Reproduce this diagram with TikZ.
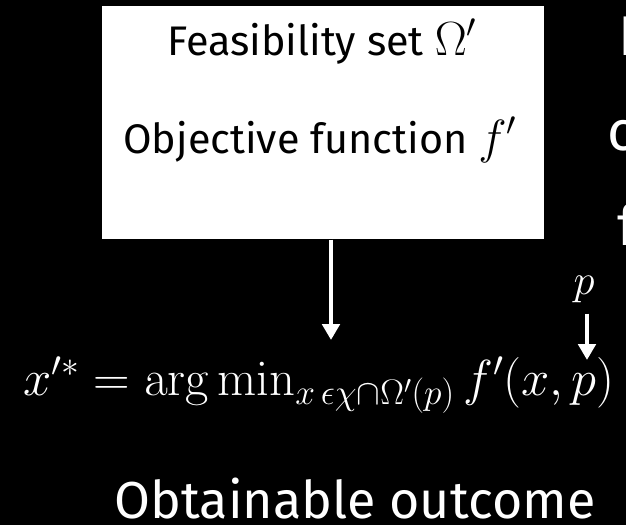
\documentclass[tikz,border=0pt]{standalone}
\usepackage{fix-cm}
\usepackage[no-math]{fontspec}
\setmainfont{Fira Sans}
\usetikzlibrary{arrows.meta}

\newcommand{\boxmath}[1]{{\fontsize{36}{40}\selectfont$#1$}}

\tikzset{
  boxlabel/.style={text=black, anchor=base, font=\fontsize{31}{37}\selectfont},
  edgeword/.style={text=white, anchor=base west, inner sep=0pt, font=\fontsize{42}{50}\selectfont},
  flowarrow/.style={draw=white, line width=3pt, -{Triangle[width=13pt, length=12pt]}},
}

\begin{document}
\begin{tikzpicture}[x=0.75pt, y=-0.75pt]
    % black page, 626 x 525 px
    \fill[black] (0,0) rectangle (626,525);
    \useasboundingbox (0,0) rectangle (626,525);
    \clip (0,0) rectangle (626,525);

    % white box with the problem data
    \node[fill=white, inner sep=0pt, anchor=north west,
          minimum width=331.5pt, minimum height=174.75pt] (box) at (102,6) {};
    \node[boxlabel] (feas) at (322,55) {Feasibility set \boxmath{\Omega'}};
    \node[boxlabel] (obj) at (320,153) {Objective function \boxmath{f'}};

    % words cut off at the right edge
    \node[edgeword] (cutI) at (618,55) {I};
    \node[edgeword] (cutc) at (607,150) {c};
    \node[edgeword] (cutf) at (617,245) {f};

    % optimisation problem
    \node[text=white, anchor=base, font=\fontsize{38}{44}\selectfont] (argmin) at (319,395)
        {$x'^{*} = \arg\min_{x\,\epsilon\chi\cap\Omega'(p)} f'(x,p)$};
    \node[text=white, anchor=base, font=\fontsize{32}{38}\selectfont] (pvar) at (584,294) {$p$};

    \coordinate (xtip) at (331,340);
    \coordinate (ptip) at (587,360);
    \draw[flowarrow] (xtip |- box.south) -- (xtip);
    \draw[flowarrow, shorten <=5pt] (ptip |- pvar.south) -- (ptip);

    % result
    \node[text=white, anchor=base, font=\fontsize{39}{46}\selectfont] (outcome) at (355,518) {Obtainable outcome};
\end{tikzpicture}
\end{document}
